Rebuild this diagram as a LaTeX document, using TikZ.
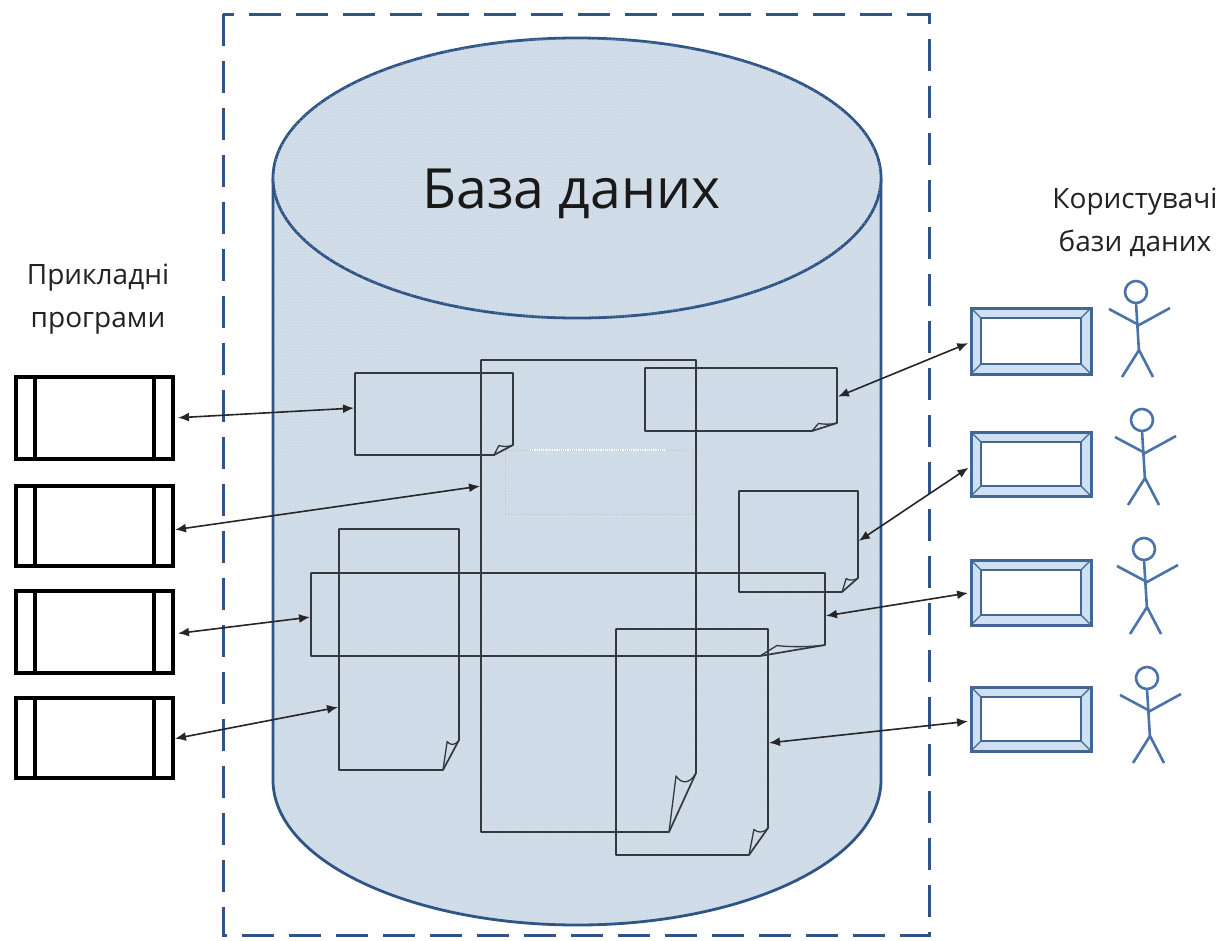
\documentclass[tikz,border=0pt]{standalone}
\usepackage{fontspec}
\setmainfont{Open Sans}
\usetikzlibrary{arrows.meta,patterns,calc}
\definecolor{frameblue}{HTML}{2F5587}
\definecolor{dbfill}{HTML}{CEDAE6}
\definecolor{bandfill}{HTML}{CFE0F2}
\definecolor{docline}{HTML}{33393F}
\definecolor{actorblue}{HTML}{4A74A8}
\definecolor{txt}{HTML}{222222}
\tikzset{
  x=1pt,y=-1pt,
  frameline/.style={draw=frameblue,line width=3pt,dash pattern=on 32pt off 15pt},
  dbbody/.style={fill=dbfill,draw=none},
  dbdots/.style={pattern=dots,pattern color=white!70!dbfill},
  dbline/.style={draw=frameblue,line width=2.8pt},
  docline/.style={draw=docline,line width=1.7pt,line join=round},
  anchorbox/.style={draw=none,inner sep=0pt,outer sep=0pt},
  conn/.style={{Latex[length=11pt,width=9pt]}-{Latex[length=11pt,width=9pt]},draw=black!85,line width=1.6pt},
  appline/.style={draw=black,line width=3.2pt},
  userouter/.style={draw=frameblue!90,line width=3pt,fill=bandfill},
  userinner/.style={draw=frameblue!90,line width=2.6pt,fill=white},
  usermitre/.style={draw=frameblue!90,line width=1.2pt},
  actor/.style={draw=actorblue,line width=2.6pt},
  sidelabel/.style={text=txt,font=\fontsize{28}{43}\selectfont,align=center,anchor=center},
  bigtitle/.style={text=black!90,font=\fontsize{55.4}{66}\selectfont,anchor=base},
}
% name x1 y1 x2 y2 foldx foldy
\newcommand{\docshape}[7]{%
  \node[anchorbox,minimum width={#4-#2},minimum height={#5-#3}] (#1) at ({(#2+#4)/2},{(#3+#5)/2}) {};
  \draw[docline] (#2,#3) -- (#4,#3) -- (#4,{#5-#7}) -- ({#4-#6},#5) -- (#2,#5) -- cycle;
  \draw[docline,line width=1.3pt] (#4,{#5-#7}) .. controls ({#4-0.25*#6},{#5-0.80*#7}) and ({#4-0.55*#6},{#5-0.82*#7}) .. ({#4-0.74*#6},{#5-0.95*#7}) -- ({#4-#6},#5);
}
% name x1 y1 x2 y2
\newcommand{\appbox}[5]{%
  \node[anchorbox,appline,minimum width={#4-#2},minimum height={#5-#3}] (#1) at ({(#2+#4)/2},{(#3+#5)/2}) {};
  \draw[appline] ({#2+19},#3) -- ({#2+19},#5);
  \draw[appline] ({#4-19},#3) -- ({#4-19},#5);
}
\newcommand{\userbox}[5]{%
  \node[anchorbox,userouter,minimum width={#4-#2},minimum height={#5-#3}] (#1) at ({(#2+#4)/2},{(#3+#5)/2}) {};
  \draw[usermitre] (#2,#3) -- ({#2+10},{#3+10}) (#4,#3) -- ({#4-10},{#3+10}) (#2,#5) -- ({#2+10},{#5-10}) (#4,#5) -- ({#4-10},{#5-10});
  \draw[userinner] ({#2+10},{#3+10}) rectangle ({#4-10},{#5-10});
}
% head centre x y
\newcommand{\stickman}[2]{%
  \begin{scope}[shift={(#1,#2)}]
    \draw[actor] (0,0) circle[radius=11];
    \draw[actor] (0,11) -- (3,60);
    \draw[actor] (-27,17) -- (3,33) -- (34,16);
    \draw[actor] (-14,85) -- (3,58) -- (17,85);
  \end{scope}
}
\begin{document}
\begin{tikzpicture}
\useasboundingbox (0,0) rectangle (1223,940);
\fill[white] (0,0) rectangle (1223,940);
% cylinder
\path[dbbody] (273,178) -- (273,780) arc[start angle=180,end angle=360,x radius=304,y radius=-145] -- (881,178) -- cycle;
\path[dbdots] (273,178) -- (273,780) arc[start angle=180,end angle=360,x radius=304,y radius=-145] -- (881,178) -- cycle;
\draw[dbline] (273,178) -- (273,780) arc[start angle=180,end angle=360,x radius=304,y radius=-145] -- (881,178);
\draw[dbline,fill=dbfill] (577,178) ellipse[x radius=304,y radius=140];
\path[dbdots] (577,178) ellipse[x radius=304,y radius=140];
\node[bigtitle] (title) at (571.5,208) {База даних};
% frame
\draw[frameline] (223,14) rectangle (929,935);
% faint rectangle
\draw[black!22,line width=0.9pt,densely dotted] (505,450) rectangle (692,514);
\draw[white,line width=1.2pt,densely dotted] (530,450) -- (665,450);
% documents
\docshape{bigdoc}{481}{360}{696}{832}{27}{59}
\docshape{docone}{355}{373}{513}{455}{19}{10}
\docshape{doctr}{645}{368}{837}{431}{25}{8}
\docshape{docmid}{739}{491}{858}{592}{16}{14}
\docshape{doctall}{339}{529}{459}{770}{16}{30}
\docshape{docwide}{311}{573}{825}{656}{65}{11}
\docshape{doclow}{616}{629}{768}{855}{19}{27}
% application boxes
\appbox{appa}{16}{377}{173}{459}
\appbox{appb}{16}{486}{173}{566}
\appbox{appc}{16}{591}{173}{673}
\appbox{appd}{16}{698}{173}{778}
% user boxes
\userbox{usera}{971}{308}{1091}{374}
\userbox{userb}{971}{432}{1091}{496}
\userbox{userc}{971}{560}{1091}{625}
\userbox{userd}{971}{687}{1091}{751}
% actors
\stickman{1136}{292}
\stickman{1142}{420}
\stickman{1144}{549}
\stickman{1147}{678}
% labels
\node[sidelabel] (lblapp) at (98,299) {Прикладні\\програми};
\node[sidelabel] (lbluser) at (1135,222) {Користувачі\\бази даних};
% connectors
\draw[conn,shorten <=5pt,shorten >=1pt] (appa.east) -- ([yshift=6pt]docone.west);
\draw[conn,shorten <=2pt,shorten >=1pt] ([yshift=-4pt]appb.east) -- ([yshift=110pt]bigdoc.west);
\draw[conn,shorten <=5pt,shorten >=1pt] ([yshift=-2pt]appc.east) -- ([yshift=-2.5pt]docwide.west);
\draw[conn,shorten <=2pt,shorten >=1pt] ([yshift=-1pt]appd.east) -- ([yshift=-57.5pt]doctall.west);
\draw[conn,shorten <=3pt,shorten >=1pt] ([yshift=-1pt]usera.west) -- ([yshift=2.5pt]doctr.east);
\draw[conn,shorten <=3pt,shorten >=1pt] ([yshift=-2pt]userb.west) -- (docmid.east);
\draw[conn,shorten <=3pt,shorten >=1pt] (userc.west) -- ([yshift=-1.5pt]docwide.east);
\draw[conn,shorten <=3pt,shorten >=1pt] ([yshift=-2pt]userd.west) -- ([yshift=-1pt]doclow.east);
\end{tikzpicture}
\end{document}
